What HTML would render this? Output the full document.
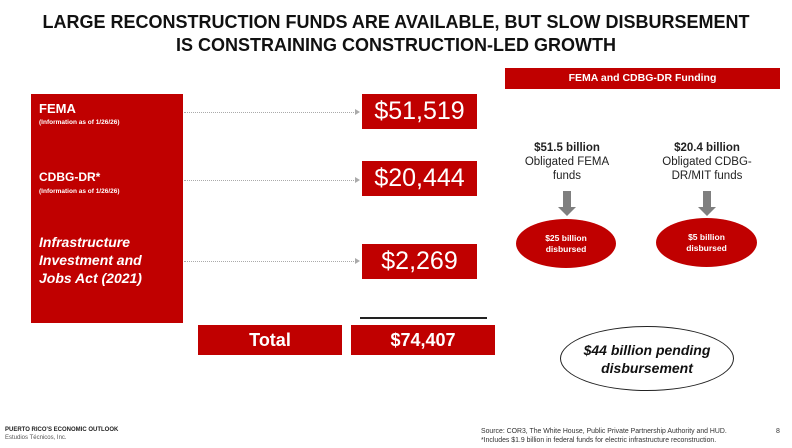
<!DOCTYPE html><html><head><style>
body{margin:0;width:792px;height:448px;background:#fff;position:relative;font-family:"Liberation Sans",sans-serif;overflow:hidden}
.a{position:absolute}
.r{background:#c00000;color:#fff}
.v{font-size:25px;text-align:center;line-height:35px}
.dot{position:absolute;border-top:1px dotted #aaa;height:0}
.dot:after{content:"";position:absolute;right:-4px;top:-4px;border-left:5px solid #aaa;border-top:3.5px solid transparent;border-bottom:3.5px solid transparent}
.c{text-align:center;color:#222}
.arr{position:absolute;width:8px;height:16px;background:#7f7f7f}
.arr:after{content:"";position:absolute;left:-5px;top:16px;border-top:9px solid #7f7f7f;border-left:9px solid transparent;border-right:9px solid transparent}
</style></head><body>
<div class="a" style="left:0;width:792px;top:11px;text-align:center;font-weight:bold;font-size:18px;line-height:23px;color:#111">LARGE RECONSTRUCTION FUNDS ARE AVAILABLE, BUT SLOW DISBURSEMENT<br>IS CONSTRAINING CONSTRUCTION-LED GROWTH</div>
<div class="a r" style="left:31px;top:94px;width:152px;height:229px"></div>
<div class="a" style="left:39px;top:101px;color:#fff;font-weight:bold;font-size:13px">FEMA</div>
<div class="a" style="left:39px;top:119px;color:#fff;font-weight:bold;font-size:6.5px">(Information as of 1/26/26)</div>
<div class="a" style="left:39px;top:170px;color:#fff;font-weight:bold;font-size:12px">CDBG-DR*</div>
<div class="a" style="left:39px;top:188px;color:#fff;font-weight:bold;font-size:6.5px">(Information as of 1/26/26)</div>
<div class="a" style="left:39px;top:233px;color:#fff;font-weight:bold;font-style:italic;font-size:14px;line-height:18px">Infrastructure<br>Investment and<br>Jobs Act (2021)</div>
<div class="dot" style="left:184px;width:172px;top:112px"></div>
<div class="dot" style="left:184px;width:172px;top:180px"></div>
<div class="dot" style="left:184px;width:172px;top:261px"></div>
<div class="a r v" style="left:362px;top:94px;width:115px">$51,519</div>
<div class="a r v" style="left:362px;top:161px;width:115px">$20,444</div>
<div class="a r v" style="left:362px;top:244px;width:115px">$2,269</div>
<div class="a" style="left:360px;top:317px;width:127px;height:2px;background:#222"></div>
<div class="a r" style="left:198px;top:325px;width:144px;height:30px;line-height:30px;text-align:center;font-weight:bold;font-size:18px">Total</div>
<div class="a r" style="left:351px;top:325px;width:144px;height:30px;line-height:30px;text-align:center;font-weight:bold;font-size:18px">$74,407</div>
<div class="a r" style="left:505px;top:68px;width:275px;height:21px;line-height:21px;text-align:center;font-weight:bold;font-size:10.5px">FEMA and CDBG-DR Funding</div>
<div class="a c" style="left:497px;width:140px;top:141px;font-size:11.5px;line-height:14px"><b>$51.5 billion</b><br>Obligated FEMA<br>funds</div>
<div class="a c" style="left:637px;width:140px;top:141px;font-size:11.5px;line-height:14px"><b>$20.4 billion</b><br>Obligated CDBG-<br>DR/MIT funds</div>
<div class="arr" style="left:563px;top:191px"></div>
<div class="arr" style="left:703px;top:191px"></div>
<div class="a r" style="left:516px;top:219px;width:100px;height:49px;border-radius:50%;text-align:center;font-weight:bold;font-size:8.5px;line-height:11px;box-sizing:border-box;padding-top:14px">$25 billion<br>disbursed</div>
<div class="a r" style="left:656px;top:218px;width:101px;height:49px;border-radius:50%;text-align:center;font-weight:bold;font-size:8.5px;line-height:11px;box-sizing:border-box;padding-top:14px">$5 billion<br>disbursed</div>
<div class="a" style="left:560px;top:326px;width:174px;height:65px;border:1px solid #222;border-radius:50%;box-sizing:border-box;text-align:center;font-weight:bold;font-style:italic;font-size:14px;line-height:18px;padding-top:14px;color:#111">$44 billion pending<br>disbursement</div>
<div class="a" style="left:5px;top:427px;font-size:6px;font-weight:bold;color:#222">PUERTO RICO'S ECONOMIC OUTLOOK</div>
<div class="a" style="left:5px;top:435px;font-size:6px;color:#555">Estudios Técnicos, Inc.</div>
<div class="a" style="left:481px;top:427px;font-size:6.9px;line-height:9px;color:#333;white-space:nowrap">Source: COR3, The White House, Public Private Partnership Authority and HUD.<br>*Includes $1.9 billion in federal funds for electric infrastructure reconstruction.</div>
<div class="a" style="left:776px;top:428px;font-size:7px;color:#333">8</div>
</body></html>
